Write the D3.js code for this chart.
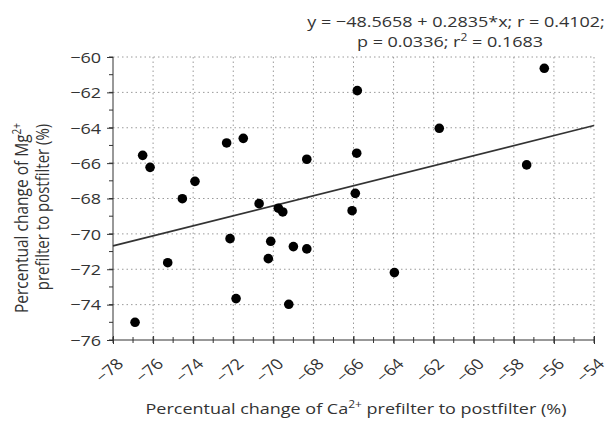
<!DOCTYPE html>
<html>
<head>
<meta charset="utf-8">
<script src="https://cdn.jsdelivr.net/npm/d3@7"></script>
<style>
  html, body { margin: 0; padding: 0; background: #fff; }
  svg text { font-family: "Open Sans", "Noto Sans", sans-serif; fill: #333; }
</style>
</head>
<body>
<svg id="chart" width="609" height="421"></svg>
<script>
// Percentual change prefilter -> postfilter, one point per sample
const caChange = [-76.52, -76.15, -74.54, -73.91, -75.27, -76.90, -72.33, -71.50, -72.16, -71.86,
                  -70.71, -70.13, -70.25, -69.75, -69.53, -69.00, -69.23, -68.33, -68.33,
                  -65.81, -65.84, -65.91, -66.07, -63.96, -61.72, -57.36, -56.48];
const mgChange = [-65.56, -66.24, -68.01, -67.03, -71.63, -75.00, -64.86, -64.60, -70.27, -73.66,
                  -68.29, -70.42, -71.40, -68.55, -68.76, -70.72, -73.98, -65.78, -70.85,
                  -61.90, -65.44, -67.71, -68.69, -72.19, -64.03, -66.10, -60.64];

// Linear fit reported for the data
const fitIntercept = -48.5658;
const fitSlope = 0.2835;
const statsLine1 = "y = \u221248.5658 + 0.2835*x; r = 0.4102;";
const statsLine2 = ["p = 0.0336; r", "2", " = 0.1683"];

const xTicks = d3.range(-78, -53, 2);
const yTicks = d3.range(-76, -59, 2);
const xMinor = d3.range(-78, -53, 1);
const yMinor = d3.range(-76, -59, 1);

const svg = d3.select("#chart");
const x = d3.scaleLinear().domain([-78, -54]).range([113, 594]);
const y = d3.scaleLinear().domain([-76, -60]).range([340, 57]);
const fmt = v => (v < 0 ? "\u2212" : "") + Math.abs(v);
const WIDE = "scale(1.2,1)"; // wide lettering used throughout the figure

// dotted grid
const grid = svg.append("g").attr("stroke", "#9a9a9a").attr("stroke-width", 1)
  .attr("stroke-dasharray", "1.5,3");
grid.selectAll(".gx").data(xTicks.slice(1)).join("line")
  .attr("x1", d => x(d)).attr("x2", d => x(d))
  .attr("y1", y(-60)).attr("y2", y(-76));
grid.selectAll(".gy").data(yTicks.slice(1)).join("line")
  .attr("x1", x(-78)).attr("x2", x(-54))
  .attr("y1", d => y(d)).attr("y2", d => y(d));

// regression line
svg.append("line")
  .attr("x1", x(-78)).attr("y1", y(fitIntercept + fitSlope * -78))
  .attr("x2", x(-54)).attr("y2", y(fitIntercept + fitSlope * -54))
  .attr("stroke", "#333").attr("stroke-width", 1.6);

// points
svg.append("g").selectAll("circle").data(caChange).join("circle")
  .attr("cx", d => x(d)).attr("cy", (d, i) => y(mgChange[i]))
  .attr("r", 4.8).attr("fill", "#000");

// y axis
const yAxis = svg.append("g").attr("transform", `translate(${x(-78)},0)`)
  .call(d3.axisLeft(y).tickValues(yTicks).tickFormat(fmt).tickSize(6).tickPadding(4));
yAxis.append("g").selectAll("line").data(yMinor).join("line")
  .attr("x1", -4).attr("x2", 0).attr("y1", d => y(d)).attr("y2", d => y(d))
  .attr("stroke", "#333");
yAxis.select(".domain").attr("d", `M0,${y(-60)}V${y(-76)}`);
yAxis.selectAll(".tick text")
  .attr("x", null).attr("dy", "0.35em")
  .attr("transform", `translate(-12,0) ${WIDE}`);

// x axis
const xAxis = svg.append("g").attr("transform", `translate(0,${y(-76)})`)
  .call(d3.axisBottom(x).tickValues(xTicks).tickFormat(fmt).tickSize(4).tickPadding(4));
xAxis.selectAll(".tick line").attr("y1", -4);
xAxis.append("g").selectAll("line").data(xMinor).join("line")
  .attr("x1", d => x(d)).attr("x2", d => x(d)).attr("y1", -3).attr("y2", 3)
  .attr("stroke", "#333");
xAxis.select(".domain").attr("d", `M${x(-78)},0H${x(-54)}`);
xAxis.selectAll(".tick text")
  .attr("text-anchor", "end").attr("dy", null).attr("y", null)
  .attr("transform", `translate(11,25) ${WIDE} rotate(-45)`);

svg.selectAll(".domain, .tick line").attr("stroke", "#333");
svg.selectAll(".tick text").style("font-size", "15px").attr("fill", "#333");

// fit statistics
svg.append("text").attr("transform", `translate(456,27) ${WIDE}`).attr("text-anchor", "middle")
  .style("font-size", "15px").text(statsLine1);
const l2 = svg.append("text").attr("transform", `translate(450,47) ${WIDE}`)
  .attr("text-anchor", "middle").style("font-size", "15px");
l2.append("tspan").text(statsLine2[0]);
l2.append("tspan").attr("dy", -6).style("font-size", "10px").text(statsLine2[1]);
l2.append("tspan").attr("dy", 6).text(statsLine2[2]);

// axis titles
const xt = svg.append("text").attr("transform", `translate(356,414) ${WIDE}`)
  .attr("text-anchor", "middle").style("font-size", "15px");
xt.append("tspan").text("Percentual change of Ca");
xt.append("tspan").attr("dy", -6).style("font-size", "10px").text("2+");
xt.append("tspan").attr("dy", 6).text(" prefilter to postfilter (%)");

const yt = svg.append("text").attr("transform", `translate(28,218) ${WIDE} rotate(-90)`)
  .attr("text-anchor", "middle").style("font-size", "15.5px");
yt.append("tspan").text("Percentual change of Mg");
yt.append("tspan").attr("dy", -6).style("font-size", "10px").text("2+");
svg.append("text").attr("transform", `translate(49,207) ${WIDE} rotate(-90)`)
  .attr("text-anchor", "middle").style("font-size", "15px")
  .text("prefilter to postfilter (%)");
</script>
</body>
</html>
